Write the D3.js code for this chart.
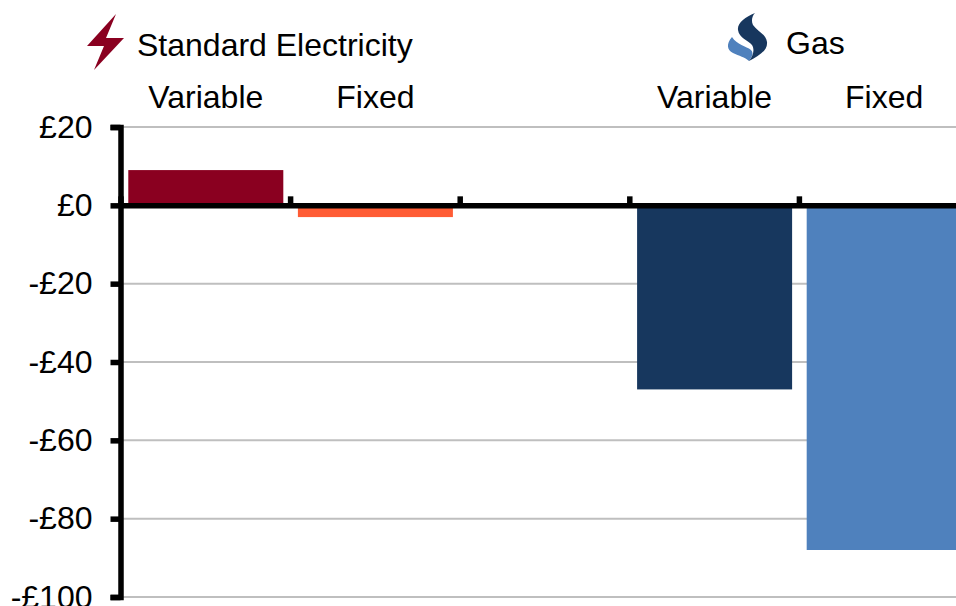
<!DOCTYPE html>
<html lang="en">

<head>
    <meta charset="UTF-8">
    <title>Tariff change</title>
    <script src="https://d3js.org/d3.v7.min.js"></script>
    <style>
        html, body {
            margin: 0;
            background: #fff;
            overflow: hidden;
        }

        svg {
            display: block;
        }

        text {
            font-family: "Liberation Sans", Arial, sans-serif;
            font-size: 32px;
            fill: #000;
        }
    </style>
</head>

<body>

    <svg id="chart"></svg>

    <script>
        const categories = ["elecVariable", "elecFixed", "gap", "gasVariable", "gasFixed"];
        const categoryLabels = ["Variable", "Fixed", "", "Variable", "Fixed"];
        const values = [9, -3, null, -47, -88];
        const barColors = ["#8a0020", "#ff5c35", "none", "#17375e", "#4f81bd"];
        const yTicks = [20, 0, -20, -40, -60, -80, -100];

        const width = 956, height = 606;

        const svg = d3.select("#chart")
            .attr("width", width)
            .attr("height", height);

        const x_scale = d3.scaleBand()
            .domain(categories)
            .range([121, 969])
            .paddingInner(0.086)
            .paddingOuter(0.043);

        // band edges, for the ticks on the zero line
        const x_edges = d3.scaleLinear()
            .domain([0, categories.length])
            .range([120.5, 968.5]);

        const y_scale = d3.scaleLinear()
            .domain([20, -100])
            .range([127, 597]);

        // gridlines
        svg.append("g")
            .selectAll("line")
            .data(yTicks)
            .join("line")
            .attr("x1", 120)
            .attr("x2", width)
            .attr("y1", (d) => y_scale(d))
            .attr("y2", (d) => y_scale(d))
            .attr("stroke", "#bfbfbf")
            .attr("stroke-width", 2);

        // bars
        svg.append("g")
            .selectAll("rect")
            .data(categories.map((c, i) => ({ c: c, v: values[i], color: barColors[i] })).filter((d) => d.v !== null))
            .join("rect")
            .attr("x", (d) => x_scale(d.c))
            .attr("y", (d) => y_scale(Math.max(d.v, 0)))
            .attr("width", x_scale.bandwidth())
            .attr("height", (d) => Math.abs(y_scale(d.v) - y_scale(0)))
            .attr("fill", (d) => d.color);

        // y axis
        const y_axis = svg.append("g")
            .attr("transform", "translate(120.5,0)")
            .call(d3.axisLeft(y_scale)
                .tickValues(yTicks)
                .tickSize(10)
                .tickPadding(18)
                .tickFormat((d) => (d < 0 ? "-£" + Math.abs(d) : "£" + d)));
        y_axis.selectAll("path, line").attr("stroke", "#000").attr("stroke-width", 5.5);
        y_axis.selectAll("text")
            .style("font-family", "'Liberation Sans', Arial, sans-serif")
            .style("font-size", "32px")
            .attr("fill", "#000");

        // zero line, ticks point up
        const x_axis = svg.append("g")
            .attr("transform", "translate(0," + y_scale(0) + ")")
            .call(d3.axisTop(x_edges)
                .tickValues(d3.range(categories.length + 1))
                .tickSizeInner(9)
                .tickSizeOuter(0)
                .tickFormat(""));
        x_axis.selectAll("path, line").attr("stroke", "#000").attr("stroke-width", 5.5);

        // category labels
        svg.append("g")
            .selectAll("text")
            .data(categories.map((c, i) => ({ c: c, label: categoryLabels[i] })))
            .join("text")
            .attr("x", (d) => x_scale(d.c) + x_scale.bandwidth() / 2)
            .attr("y", 108)
            .attr("text-anchor", "middle")
            .text((d) => d.label);

        // legend headers
        svg.append("text").attr("x", 137).attr("y", 56).text("Standard Electricity");
        svg.append("text").attr("x", 786).attr("y", 54).text("Gas");

        // icons
        svg.append("path")
            .attr("d", "M116,14 L87,46 L104,46 L94,70 L124,38 L106,38 Z")
            .attr("fill", "#8a0020");
        svg.append("path")
            .attr("d", "M732,37 C726,44 727,50 733,53 C739,56 745,57 749,61 C752,57 754,53 751,50 C746,46 737,45 732,37 Z")
            .attr("fill", "#4f81bd");
        svg.append("path")
            .attr("d", "M755,13 C745,17 737,23 738,30 C739,38 748,40 752,45 C755,50 753,56 749,61 C758,56 768,51 767,42 C766,34 757,31 753,25 C751,21 752,16 755,13 Z")
            .attr("fill", "#17375e");
    </script>
</body>

</html>
